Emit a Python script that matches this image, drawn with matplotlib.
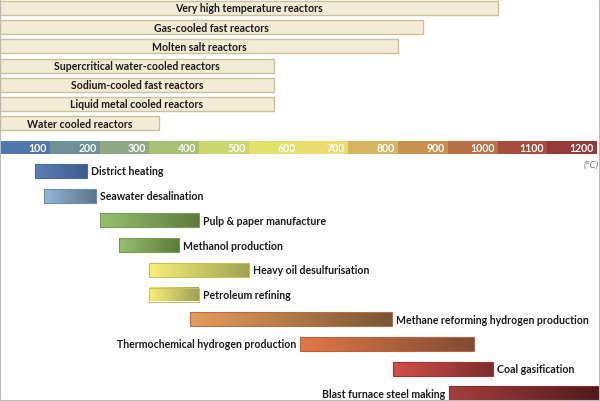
import numpy as np
import matplotlib.pyplot as plt
from matplotlib.colors import LinearSegmentedColormap
from matplotlib.patches import Rectangle

plt.rcParams['font.family'] = ['Lato', 'DejaVu Sans']

# reactor types and their max outlet temperature (deg C)
reactors = ['Very high temperature reactors', 'Gas-cooled fast reactors',
            'Molten salt reactors', 'Supercritical water-cooled reactors',
            'Sodium-cooled fast reactors', 'Liquid metal cooled reactors',
            'Water cooled reactors']
reactor_max = [1000, 850, 800, 550, 550, 550, 320]

# temperature scale
scale_temps = [100, 200, 300, 400, 500, 600, 700, 800, 900, 1000, 1100, 1200]
scale_colors = ['#5178ad', '#6f9094', '#8daa84', '#a7c274', '#cad86f', '#e3e26c',
                '#e9dc70', '#d7b460', '#c89150', '#b96f46', '#a84c3b', '#973936']

# industrial applications: temperature ranges
apps = ['District heating', 'Seawater desalination', 'Pulp & paper manufacture',
        'Methanol production', 'Heavy oil desulfurisation', 'Petroleum refining',
        'Methane reforming hydrogen production', 'Thermochemical hydrogen production',
        'Coal gasification', 'Blast furnace steel making']
app_lo = [70, 88, 200, 240, 300, 300, 382, 603, 790, 902]
app_hi = [175, 193, 400, 360, 500, 400, 788, 953, 990, 1210]
app_c1 = ['#5b80b9', '#93b8d8', '#95c26f', '#95c26f', '#f9ef78', '#f9ef78',
          '#e79d5e', '#e2784a', '#d2504a', '#a53f3d']
app_c2 = ['#3f5b8d', '#5a7488', '#5d7a3c', '#5d7a3c', '#9ea352', '#9ea352',
          '#7a5534', '#7e4c31', '#7c2c2d', '#4f1a1c']
app_edge = ['#4a6aa0', '#7090a8', '#7c9a55', '#7c9a55', '#c8c060', '#c8c060',
            '#b07040', '#c06038', '#a83030', '#8a2a2a']
label_left = ['Thermochemical hydrogen production', 'Blast furnace steel making']

fig = plt.figure(figsize=(6, 4.02), dpi=100)
ax = fig.add_axes([0, 0, 1, 1])
ax.set_xlim(0, 1206)
ax.set_ylim(402, 0)
ax.axis('off')

# reactor bars
for i, (name, t) in enumerate(zip(reactors, reactor_max)):
    y = 2 + i * 19.2
    ax.add_patch(Rectangle((0, y), t, 14, facecolor='#f2ebd5', edgecolor='#cbbf9c', lw=1))
    ax.text(t / 2, y + 7, name, ha='center', va='center', fontsize=7.6,
            fontweight='bold', color='#1a1a1a')

# temperature scale bar
for t, c in zip(scale_temps, scale_colors):
    ax.add_patch(Rectangle((t - 100, 142), 100, 13, facecolor=c, edgecolor='none'))
    ax.text(t - 6, 148.5, str(t), ha='right', va='center', fontsize=7.6,
            fontweight='bold', color='white')
ax.text(1204, 165, '(°C)', ha='right', va='center', fontsize=7, color='#777777',
        style='italic')

# application bars with gradient
grad = np.linspace(0, 1, 256).reshape(1, -1)
for i, name in enumerate(apps):
    y = 165 + i * 24.7
    lo, hi = app_lo[i], app_hi[i]
    cmap = LinearSegmentedColormap.from_list('g%d' % i, [app_c1[i], app_c2[i]])
    ax.imshow(grad, cmap=cmap, aspect='auto', extent=(lo, hi, y + 14, y), zorder=2)
    ax.add_patch(Rectangle((lo, y), hi - lo, 14, facecolor='none',
                           edgecolor=app_edge[i], lw=0.8, zorder=3))
    if name in label_left:
        ax.text(lo - 8, y + 7, name, ha='right', va='center', fontsize=7.6,
                fontweight='bold', color='#1a1a1a')
    else:
        ax.text(hi + 8, y + 7, name, ha='left', va='center', fontsize=7.6,
                fontweight='bold', color='#1a1a1a')

ax.set_xlim(0, 1206)
ax.set_ylim(402, 0)

# thin frame around the figure
fig.patches.append(Rectangle((0, 0), 1, 1, transform=fig.transFigure, fill=False,
                             edgecolor='#bbbbbb', lw=1.5, zorder=10))

fig.savefig('out.png', dpi=100)
